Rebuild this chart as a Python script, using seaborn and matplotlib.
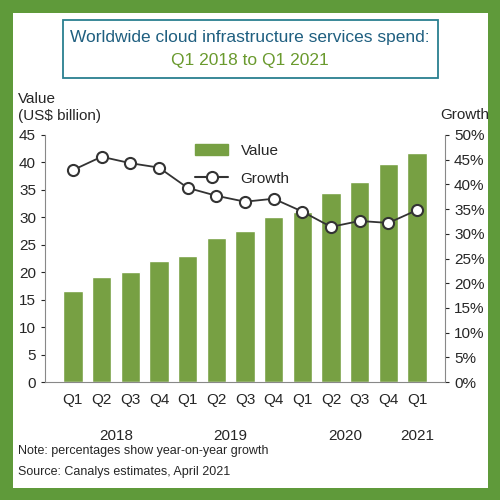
import numpy as np
import pandas as pd
import matplotlib.pyplot as plt
import seaborn as sns
from matplotlib.patches import Rectangle, Patch
from matplotlib.lines import Line2D

quarters = ['Q1', 'Q2', 'Q3', 'Q4'] * 3 + ['Q1']
years = ['2018', '2019', '2020', '2021']
value = [16.6, 19.1, 20.1, 22.0, 23.0, 26.3, 27.5, 30.1, 31.0, 34.5, 36.5, 39.8, 41.8]
growth = [42.9, 45.6, 44.3, 43.4, 39.3, 37.7, 36.5, 37.1, 34.5, 31.4, 32.6, 32.2, 34.8]

sns.set_style('white')
plt.rcParams['font.family'] = ['Liberation Sans', 'DejaVu Sans']
green = '#77a043'
fs = 11

fig = plt.figure(figsize=(5, 5), dpi=100)
fig.patch.set_facecolor('white')
fig.patches.append(Rectangle((0, 0), 1, 1, transform=fig.transFigure, fill=False,
                             edgecolor='#5f9a3a', linewidth=18))
ax = fig.add_axes([0.09, 0.236, 0.80, 0.494])
df = pd.DataFrame({'x': range(len(value)), 'v': value})
sns.barplot(data=df, x='x', y='v', color=green, width=0.68, saturation=1, ax=ax)
ax.set_ylim(0, 45)
ax.set_yticks(range(0, 46, 5))
ax.set_xticks(range(len(quarters)))
ax.set_xticklabels(quarters, fontsize=fs)
ax.tick_params(axis='y', labelsize=fs, length=3, left=True)
ax.tick_params(axis='x', length=0, pad=8)
ax.set_xlabel('')
ax.set_ylabel('')
for s in ['top', 'right']:
    ax.spines[s].set_visible(False)
ax.spines['left'].set_color('#888888')
ax.spines['bottom'].set_color('#888888')

ax2 = ax.twinx()
sns.lineplot(x=range(len(growth)), y=growth, ax=ax2, color='#333333', marker='o',
             markersize=8, markerfacecolor='white', markeredgecolor='#333333',
             markeredgewidth=1.5, linewidth=1.3)
ax2.set_ylim(0, 50)
ax2.set_yticks(range(0, 51, 5))
ax2.set_yticklabels([f'{t}%' for t in range(0, 51, 5)], fontsize=fs)
ax2.tick_params(axis='y', length=3, right=True)
for s in ['top', 'left', 'bottom']:
    ax2.spines[s].set_visible(False)
ax2.spines['right'].set_color('#888888')

for i, y in enumerate(years):
    xpos = [1.5, 5.5, 9.5, 12][i]
    ax.text(xpos, -0.19, y, transform=ax.get_xaxis_transform(), ha='center',
            va='top', fontsize=fs)

handles = [Patch(color=green, label='Value'),
           Line2D([0], [0], color='#333333', marker='o', markerfacecolor='white',
                  markersize=8, markeredgewidth=1.5, label='Growth')]
ax.legend(handles=handles, loc='upper left', bbox_to_anchor=(0.34, 1.02),
          frameon=False, fontsize=fs, handlelength=2.2, labelspacing=0.9)

fig.text(0.035, 0.785, 'Value\n(US$ billion)', fontsize=fs, va='center')
fig.text(0.88, 0.77, 'Growth', fontsize=fs, va='center')
fig.patches.append(Rectangle((0.125, 0.845), 0.75, 0.115, transform=fig.transFigure,
                             fill=False, edgecolor='#2a7f90', linewidth=1.3))
fig.text(0.5, 0.925, 'Worldwide cloud infrastructure services spend:',
         ha='center', va='center', fontsize=12.5, color='#1f5f80')
fig.text(0.5, 0.88, 'Q1 2018 to Q1 2021',
         ha='center', va='center', fontsize=12.5, color='#6a9a2e')
fig.text(0.035, 0.092, 'Note: percentages show year-on-year growth', fontsize=9)
fig.text(0.035, 0.05, 'Source: Canalys estimates, April 2021', fontsize=9)

fig.savefig('out.png', dpi=100)
